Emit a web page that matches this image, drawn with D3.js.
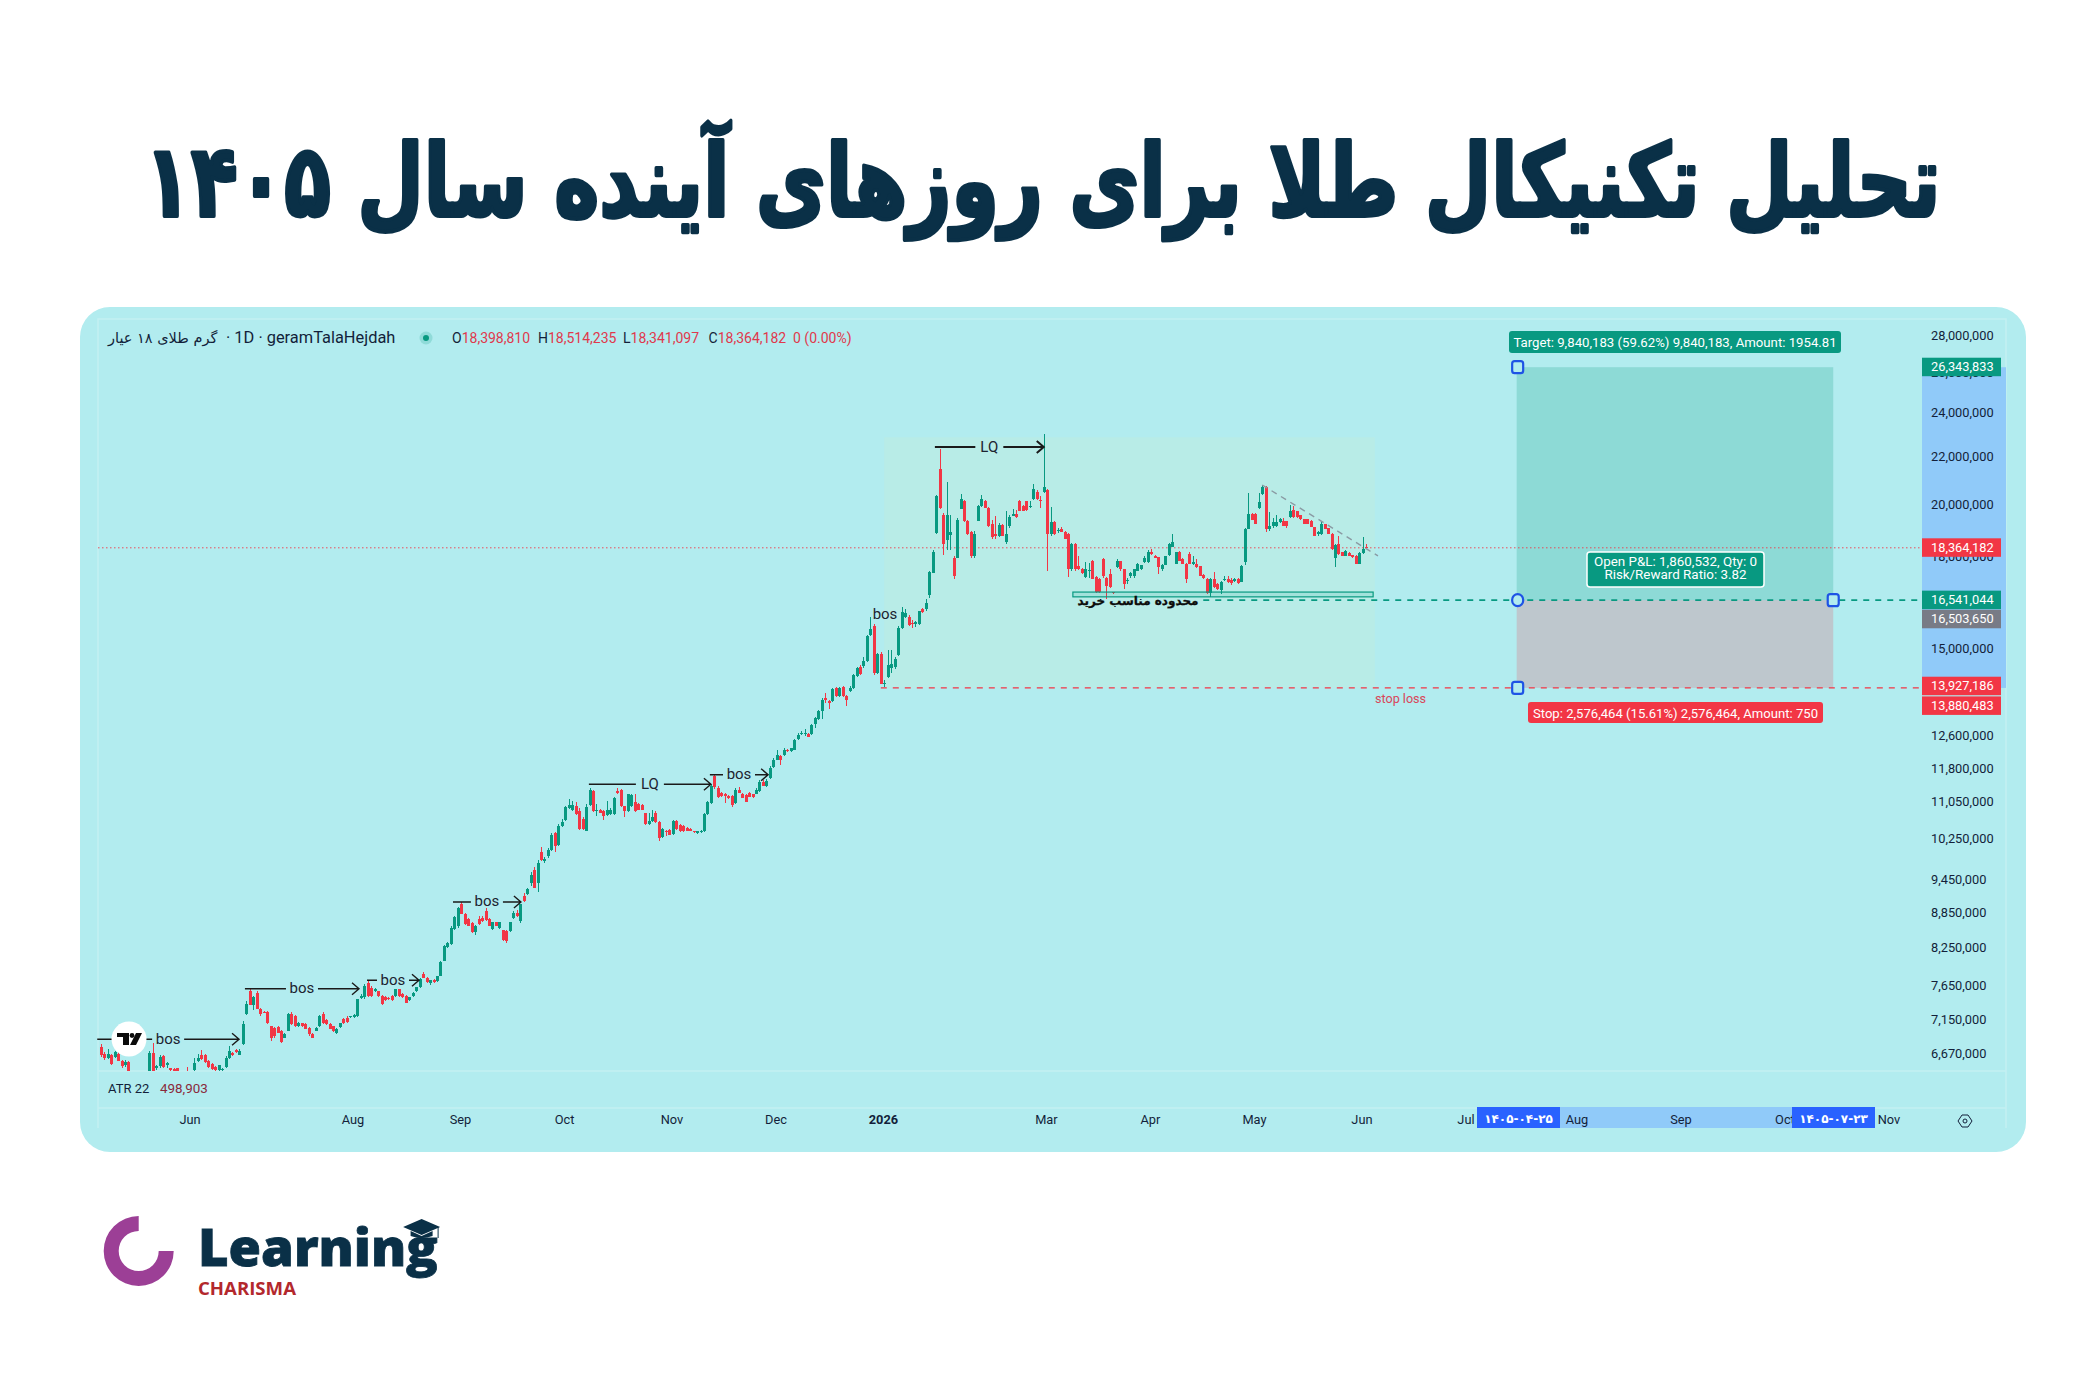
<!DOCTYPE html>
<html lang="fa">
<head>
<meta charset="utf-8">
<script src="https://cdnjs.cloudflare.com/ajax/libs/d3/7.8.5/d3.min.js"></script>
<style>
html,body{margin:0;padding:0;background:#fff}
svg{display:block}
text{font-family:Roboto,"DejaVu Sans",sans-serif}
</style>
</head>
<body>
<svg id="chart" width="2085" height="1390"></svg>
<script>
// Daily candles of 18k gold per gram, [open, high, low, close] in millions.
const barsMay = [
[6.78,6.81,6.64,6.66],[6.68,6.70,6.60,6.62],[6.62,6.74,6.61,6.68],[6.67,6.68,6.53,6.55],[6.64,6.72,6.62,6.70],
[6.68,6.70,6.58,6.59],[6.59,6.60,6.50,6.52],[6.54,6.60,6.51,6.57],[6.57,6.58,6.43,6.46],[6.44,6.46,6.39,6.41],
[6.41,6.45,6.38,6.43],[6.43,6.45,6.38,6.40],[6.40,6.44,6.37,6.42],[6.42,6.46,6.39,6.44],[6.44,6.72,6.42,6.69],
[6.69,6.83,6.42,6.45],[6.49,6.53,6.47,6.52],[6.52,6.66,6.50,6.64],[6.65,6.67,6.50,6.51],[6.53,6.57,6.49,6.56],
[6.49,6.50,6.44,6.47],[6.48,6.49,6.43,6.46],[6.49,6.50,6.44,6.46],[6.44,6.46,6.40,6.42],[6.43,6.46,6.40,6.44],
[6.46,6.51,6.42,6.44]];
const barsJune = [
[6.44,6.46,6.40,6.45],[6.47,6.63,6.45,6.56],[6.59,6.68,6.57,6.63],[6.67,6.73,6.60,6.61],[6.67,6.68,6.56,6.57],
[6.59,6.60,6.50,6.51],[6.55,6.56,6.47,6.48],[6.51,6.52,6.44,6.47],[6.47,6.54,6.45,6.53],[6.47,6.49,6.44,6.48],
[6.51,6.65,6.49,6.62],[6.63,6.79,6.61,6.72],[6.69,6.71,6.65,6.66],[6.73,6.75,6.69,6.70],[6.67,6.74,6.66,6.72],
[6.81,7.14,6.80,7.09],[7.24,7.43,7.22,7.38],[7.58,7.61,7.36,7.37],[7.37,7.50,7.30,7.48],[7.55,7.58,7.31,7.31],
[7.31,7.32,7.20,7.23],[7.27,7.28,7.25,7.26],[7.27,7.28,7.09,7.10],[7.06,7.07,6.86,6.90],[7.04,7.05,6.90,6.93],
[7.05,7.06,6.96,6.97]];
const barsJuly = [
[7.00,7.01,6.83,6.84],[6.90,6.97,6.89,6.95],[7.00,7.25,6.99,7.23],[7.24,7.27,7.08,7.09],[7.20,7.22,7.05,7.06],
[7.07,7.12,7.05,7.11],[7.10,7.11,7.05,7.06],[7.09,7.10,7.02,7.02],[7.04,7.05,6.93,6.95],[6.95,6.96,6.89,6.90],
[7.00,7.05,6.99,7.04],[7.06,7.22,7.05,7.21],[7.24,7.26,7.09,7.10],[7.15,7.16,7.08,7.09],[7.09,7.10,7.02,7.02],
[7.06,7.07,6.98,7.00],[6.97,7.03,6.95,7.02],[7.05,7.11,7.04,7.10],[7.17,7.18,7.09,7.10],[7.18,7.20,7.11,7.12],
[7.19,7.21,7.18,7.20]];
const barsAugust = [
[7.19,7.24,7.18,7.22],[7.20,7.46,7.19,7.45],[7.47,7.53,7.45,7.50],[7.48,7.68,7.45,7.65],[7.70,7.75,7.49,7.50],
[7.62,7.65,7.49,7.50],[7.58,7.62,7.56,7.60],[7.57,7.58,7.49,7.50],[7.50,7.51,7.36,7.38],[7.48,7.50,7.42,7.44],
[7.47,7.49,7.44,7.45],[7.50,7.52,7.43,7.44],[7.50,7.61,7.49,7.60],[7.60,7.61,7.49,7.50],[7.53,7.54,7.47,7.48],
[7.50,7.51,7.39,7.40],[7.44,7.49,7.42,7.48],[7.50,7.56,7.49,7.55],[7.58,7.64,7.56,7.63],[7.63,7.77,7.62,7.76],
[7.83,7.87,7.77,7.78],[7.78,7.79,7.70,7.71],[7.69,7.75,7.67,7.74],[7.75,7.76,7.70,7.71],[7.73,7.81,7.72,7.81],
[7.81,8.05,7.80,8.03],[8.05,8.30,8.04,8.29],[8.27,8.36,8.26,8.34],[8.32,8.62,8.31,8.60],[8.58,8.80,8.56,8.78],
[8.63,8.96,8.60,8.95]];
const barsSeptember = [
[9.02,9.05,8.83,8.84],[8.83,8.85,8.65,8.66],[8.74,8.76,8.62,8.63],[8.67,8.69,8.51,8.53],[8.52,8.64,8.47,8.63],
[8.74,8.80,8.65,8.66],[8.77,8.80,8.70,8.71],[8.89,8.95,8.72,8.73],[8.74,8.76,8.62,8.63],[8.57,8.70,8.55,8.69],
[8.69,8.70,8.62,8.63],[8.60,8.70,8.58,8.69],[8.55,8.56,8.37,8.38],[8.54,8.55,8.34,8.37],[8.54,8.70,8.52,8.69],
[8.77,8.88,8.75,8.86],[8.86,8.90,8.79,8.80],[8.72,9.02,8.68,9.01],[9.16,9.22,9.05,9.07],[9.19,9.30,9.17,9.28],
[9.40,9.60,9.35,9.56],[9.64,9.70,9.30,9.31],[9.40,9.84,9.24,9.79],[10.01,10.10,9.82,9.84],[9.82,9.90,9.78,9.87],
[9.92,10.09,9.88,10.05],[10.05,10.38,10.02,10.34],[10.38,10.40,10.00,10.12],[10.15,10.58,10.12,10.54],[10.54,10.68,10.52,10.61]];
const barsOctober = [
[10.66,10.97,10.64,10.94],[10.92,11.11,10.90,10.98],[10.88,11.08,10.86,10.98],[10.96,11.05,10.76,10.78],[10.85,10.92,10.45,10.47],
[10.68,10.72,10.45,10.47],[10.43,11.00,10.42,10.95],[10.99,11.36,10.97,11.33],[11.30,11.32,10.84,10.85],[10.85,11.00,10.74,10.88],
[10.87,10.90,10.80,10.82],[10.85,10.88,10.67,10.75],[10.77,11.07,10.74,10.87],[10.78,10.92,10.76,10.87],[10.78,11.17,10.76,11.15],
[11.30,11.36,11.24,11.25],[11.33,11.35,10.95,10.96],[10.96,10.97,10.73,10.85],[10.86,11.22,10.84,11.22],[10.96,11.22,10.94,11.20],
[11.06,11.22,10.84,10.85],[11.01,11.02,10.87,10.88],[10.99,11.00,10.87,10.88],[10.80,10.82,10.55,10.57],[10.57,10.82,10.55,10.64],
[10.64,10.88,10.62,10.73],[10.80,10.85,10.60,10.61],[10.61,10.63,10.22,10.28],[10.31,10.50,10.29,10.47],[10.43,10.45,10.33,10.40]];
const barsNovember = [
[10.45,10.47,10.34,10.35],[10.36,10.66,10.34,10.63],[10.64,10.67,10.46,10.47],[10.55,10.58,10.40,10.42],[10.53,10.56,10.41,10.42],
[10.50,10.52,10.42,10.43],[10.47,10.49,10.42,10.43],[10.42,10.43,10.39,10.40],[10.38,10.43,10.37,10.42],[10.40,10.44,10.39,10.43],
[10.43,10.80,10.41,10.78],[10.78,11.08,10.76,11.05],[11.03,11.45,11.00,11.41],[11.64,11.66,11.35,11.38],[11.37,11.40,11.14,11.16],
[11.25,11.27,11.17,11.18],[11.23,11.25,11.03,11.18],[11.18,11.20,11.12,11.13],[11.18,11.20,10.95,10.99],[11.03,11.36,11.00,11.33],
[11.33,11.38,11.25,11.26],[11.24,11.25,11.14,11.15],[11.20,11.22,11.04,11.05],[11.25,11.27,11.16,11.16],[11.22,11.24,11.15,11.16],
[11.24,11.36,11.22,11.33],[11.30,11.55,11.28,11.51],[11.51,11.54,11.40,11.41],[11.41,11.56,11.39,11.52],[11.60,11.87,11.58,11.83]];
const barsDecember = [
[11.85,12.06,11.83,12.03],[12.03,12.27,12.01,12.15],[12.11,12.13,11.90,12.03],[12.13,12.32,12.11,12.27],[12.27,12.29,12.22,12.23],
[12.23,12.32,12.21,12.30],[12.27,12.53,12.25,12.50],[12.53,12.68,12.51,12.64],[12.65,12.74,12.63,12.69],[12.65,12.78,12.60,12.69],
[12.67,12.69,12.58,12.59],[12.65,12.92,12.63,12.89],[12.91,13.09,12.80,13.06],[13.04,13.28,13.02,13.25],[13.25,13.60,13.04,13.56],
[13.60,13.73,13.48,13.56],[13.51,13.55,13.31,13.47],[13.51,13.87,13.49,13.84],[13.87,13.90,13.64,13.66],[13.66,13.91,13.64,13.88],
[13.90,13.93,13.64,13.66],[13.66,13.68,13.40,13.56],[13.80,13.92,13.78,13.88],[13.88,14.27,13.86,14.23],[14.21,14.48,14.19,14.45],
[14.47,14.52,14.25,14.27],[14.49,14.75,14.45,14.65],[14.65,15.44,14.62,15.39],[15.42,16.00,15.40,15.60],[15.72,15.78,14.25,14.30]];
const barsJanuary = [
[14.31,14.88,14.28,14.84],[14.86,14.90,13.98,14.00],[13.98,14.10,13.90,14.02],[14.20,14.96,14.15,14.52],[14.43,14.96,14.30,14.57],
[14.47,14.75,14.42,14.72],[14.81,15.70,14.78,15.65],[15.65,16.33,15.62,16.15],[15.99,16.25,15.96,16.12],[16.00,16.05,15.70,15.75],
[15.80,15.90,15.65,15.76],[15.78,15.88,15.68,15.83],[15.78,16.20,15.75,16.18],[16.24,16.27,16.13,16.15],[16.24,16.58,16.20,16.44],
[16.70,17.55,16.60,17.51],[17.48,18.30,17.45,18.20],[18.91,20.42,18.88,20.38],[21.49,22.37,19.85,19.89],[19.59,19.70,18.10,18.51],
[18.64,20.95,18.30,19.59],[18.85,19.60,18.30,18.95],[18.00,18.05,17.25,17.37],[18.00,19.50,17.98,19.43],[19.85,20.45,19.83,20.25],
[20.18,20.20,19.35,19.39],[19.39,19.42,18.85,18.88],[18.95,18.98,18.00,18.05],[18.08,19.00,18.00,18.88],[19.39,20.02,19.36,19.98]];
const barsFebruary = [
[19.95,20.40,19.92,20.25],[20.18,20.20,19.87,19.89],[19.89,19.92,19.15,19.20],[19.26,19.40,18.70,18.76],[18.88,19.55,18.70,18.82],
[18.82,19.30,18.78,19.22],[19.22,19.25,18.80,18.82],[18.57,19.78,18.50,18.86],[19.17,19.60,19.10,19.52],[19.58,19.85,19.55,19.63],
[19.65,19.80,19.50,19.52],[20.15,20.20,19.75,19.78],[19.98,20.00,19.75,19.78],[20.15,20.18,19.78,19.80],[19.92,20.18,19.90,19.96],
[20.25,20.85,20.20,20.65],[20.55,20.60,20.20,20.25],[20.20,20.38,19.90,20.15],[20.55,23.04,20.50,20.75],[20.62,20.65,17.55,18.86],
[18.88,19.92,18.80,19.33],[19.33,19.36,18.85,18.88],[18.98,19.10,18.90,19.02],[19.08,19.15,18.94,18.95],[18.95,18.98,18.68,18.70],
[18.88,18.90,17.34,17.60],[17.60,18.55,17.55,18.51],[18.51,18.54,17.55,17.60],[17.70,18.05,17.58,17.60],[17.60,17.63,17.42,17.45]];
const barsMarch = [
[17.33,17.85,17.30,17.60],[17.55,17.80,17.30,17.58],[17.90,17.92,17.25,17.27],[17.33,17.36,16.78,16.80],[17.27,17.30,16.78,16.80],
[17.96,17.99,17.30,17.37],[17.30,17.32,16.59,17.00],[17.42,17.60,16.95,16.98],[16.80,16.82,16.75,16.78],[17.67,17.95,17.65,17.87],
[17.87,17.90,17.55,17.59],[17.59,17.61,16.90,17.07],[17.18,17.30,17.10,17.22],[17.35,17.50,17.30,17.47],[17.37,17.62,17.30,17.59],
[17.55,17.83,17.53,17.79],[17.60,17.75,17.58,17.73],[17.85,18.05,17.83,18.00],[17.85,18.28,17.83,18.22],[18.20,18.32,18.10,18.14],
[18.08,18.10,17.98,18.00],[18.02,18.04,17.43,17.67],[17.60,17.78,17.55,17.75],[17.75,18.08,17.73,18.08],[18.10,18.55,18.08,18.51],
[18.41,18.88,18.38,18.57],[17.79,18.22,17.77,18.20],[18.20,18.25,17.88,17.90],[17.96,17.98,17.77,17.79],[17.79,17.81,17.13,17.27]];
const barsApril = [
[18.14,18.20,17.77,17.79],[17.79,18.05,17.75,17.85],[17.79,17.95,17.65,17.67],[17.70,17.72,17.35,17.37],[17.40,17.42,17.26,17.28],
[17.27,17.30,16.76,16.78],[16.78,17.30,16.65,17.27],[17.27,17.50,16.95,16.98],[17.09,17.11,16.88,16.90],[16.87,17.18,16.75,17.15],
[17.22,17.35,17.20,17.26],[17.25,17.35,17.12,17.16],[17.21,17.30,17.05,17.13],[17.18,17.30,17.15,17.25],[17.27,17.30,17.10,17.12],
[17.16,17.75,17.14,17.72],[17.85,19.10,17.75,19.07],[19.07,20.47,19.05,19.65],[19.65,19.70,19.40,19.43],[19.65,19.70,19.25,19.27],
[19.89,20.50,19.85,20.12],[20.45,20.82,20.40,20.72],[20.75,20.78,18.95,19.07],[19.07,19.72,19.00,19.20],[19.20,19.50,19.10,19.33],
[19.20,19.60,19.15,19.33],[19.33,19.50,19.30,19.45],[19.36,19.50,19.18,19.20],[19.36,19.38,19.12,19.20],[19.52,20.02,19.50,19.78]];
const barsLast = [
[19.80,19.95,19.50,19.52],[19.75,19.77,19.50,19.52],[19.59,19.62,19.43,19.45],[19.45,19.47,19.25,19.27],[19.45,19.47,19.25,19.27],
[19.39,19.41,19.13,19.14],[19.14,19.16,18.80,18.82],[18.86,18.98,18.82,18.95],[18.86,19.32,18.84,19.26],[19.24,19.26,19.05,19.07],
[19.09,19.11,18.86,18.88],[18.88,18.90,18.30,18.32],[18.00,18.50,17.67,18.45],[18.49,18.82,18.12,18.14],[18.20,18.22,18.06,18.08],
[18.08,18.30,18.06,18.26],[18.17,18.20,18.05,18.08],[18.10,18.12,18.00,18.02],[18.08,18.10,17.77,17.79],[17.79,18.20,17.77,18.17],
[18.17,18.76,18.15,18.32],[18.39881,18.514235,18.341097,18.364182]];

const priceTicks = [28e6,26e6,24e6,22e6,20e6,18e6,15e6,12.6e6,11.8e6,11.05e6,10.25e6,9.45e6,8.85e6,8.25e6,7.65e6,7.15e6,6.67e6];
const monthLabels = ["Jun","Aug","Sep","Oct","Nov","Dec","2026","Mar","Apr","May","Jun","Jul","Aug","Sep","Oct","Nov"];
const monthBars = [26,73,104,134,165,195,226,273,303,333,364,394,426,456,486,516];

// Drawn tools: [label, first bar, last bar, price in millions]
const arrowTools = [
 ["bos",-1,39.9,6.88],["bos",41.6,74.5,7.61],["bos",76.8,91.8,7.74],["bos",101.6,121.2,9.05],
 ["LQ",140.8,176,11.45],["bos",175.7,192.5,11.67],["LQ",240.6,272,22.46]
];
const legendValues = ["18,398,810","18,514,235","18,341,097","18,364,182"];
const lastClose = 18364182, entryPrice = 16541044, targetPrice = 26343833, stopPrice = 13880483;
// Price tags on the axis: [price, colour, stacked rows below its own level]
const priceTags = [
 [26343833,"#089981",0],[18364182,"#f23645",0],[16541044,"#089981",0],
 [16503650,"#787b86",1],[13927186,"#f23645",0],[13880483,"#f23645",1]
];

const INK = "#131f3a", GREEN = "#089981", RED = "#f23645", CARD = "#b2ecef", NAVY = "#0a3047", BLUE = "#2962ff";
const bars = [].concat(barsMay,barsJune,barsJuly,barsAugust,barsSeptember,barsOctober,barsNovember,
                       barsDecember,barsJanuary,barsFebruary,barsMarch,barsApril,barsLast);

const x = d3.scaleLinear().domain([0,365]).range([100.7,1366.2]);
const y = d3.scaleLog().domain([28e6,6.67e6]).range([336.7,1054.7]);
const M = v => y(v*1e6);
const fmt = d3.format(",");

const svg = d3.select("#chart");
svg.append("rect").attr("width",2085).attr("height",1390).attr("fill","#fff");

// Heading
const title = svg.append("text")
  .attr("direction","rtl").attr("text-anchor","middle")
  .style("font-family","'DejaVu Sans'").style("font-weight",700).style("font-size","100px")
  .attr("fill",NAVY).attr("stroke",NAVY).attr("stroke-width",4).attr("stroke-linejoin","round")
  .text("تحلیل تکنیکال طلا برای روزهای آینده سال ۱۴۰۵");
const titleBox = title.node().getBBox();
title.attr("transform",`translate(1042.5,216) scale(${1796/titleBox.width},1)`);

// Card and panes
svg.append("rect").attr("x",80).attr("y",307).attr("width",1946).attr("height",845).attr("rx",30).attr("fill",CARD);
const frame = svg.append("g").attr("stroke","#c4f0f2").attr("stroke-width",1.5).attr("fill","none");
frame.append("path").attr("d","M98,1128V319H2006V1128");
frame.append("path").attr("d","M98,1071H2006M98,1108H2006");

// Highlighted region behind the candles
svg.append("rect").attr("x",x(226)).attr("y",M(22.9)).attr("width",x(367.5)-x(226)).attr("height",M(13.88)-M(22.9))
  .attr("fill","#c8ecd6").attr("opacity",.32);

// Right axis highlight of the position range
svg.append("rect").attr("x",1922).attr("y",y(targetPrice)).attr("width",84).attr("height",y(13.88e6)-y(targetPrice)).attr("fill","#90caf9");
// Bottom axis highlight of the position range
svg.append("rect").attr("x",1559).attr("y",1107).attr("width",233).attr("height",21).attr("fill","#90caf9");

// Position tool
const posL = x(408.4), posR = x(499.7);
svg.append("rect").attr("x",posL).attr("y",y(targetPrice)).attr("width",posR-posL).attr("height",y(entryPrice)-y(targetPrice)).attr("fill",GREEN).attr("opacity",.22);
svg.append("rect").attr("x",posL).attr("y",y(entryPrice)).attr("width",posR-posL).attr("height",y(stopPrice)-y(entryPrice)).attr("fill",RED).attr("opacity",.2);

// Price levels
svg.append("line").attr("x1",98).attr("x2",1922).attr("y1",y(lastClose)).attr("y2",y(lastClose)).attr("stroke",RED).attr("stroke-dasharray","1.5 2.5").attr("opacity",.85);
svg.append("line").attr("x1",x(318)).attr("x2",1922).attr("y1",y(entryPrice)).attr("y2",y(entryPrice)).attr("stroke",GREEN).attr("stroke-width",1.8).attr("stroke-dasharray","6 6");
svg.append("line").attr("x1",x(225)).attr("x2",1922).attr("y1",y(stopPrice)).attr("y2",y(stopPrice)).attr("stroke",RED).attr("stroke-width",1.2).attr("stroke-dasharray","6 6");

// Candles, cut at the pane edge
svg.append("clipPath").attr("id","pane").append("rect").attr("x",98).attr("y",319).attr("width",1824).attr("height",752);
const candleLayer = svg.append("g").attr("clip-path","url(#pane)").attr("shape-rendering","crispEdges");
const candle = candleLayer.selectAll("g").data(bars).join("g")
  .attr("fill",d => d[3]>=d[0] ? GREEN : RED);
candle.append("rect").attr("x",(d,i)=>Math.round(x(i))).attr("width",1)
  .attr("y",d=>M(d[1])).attr("height",d=>M(d[2])-M(d[1]));
candle.append("rect").attr("x",(d,i)=>Math.round(x(i))-1).attr("width",3)
  .attr("y",d=>M(Math.max(d[0],d[3]))).attr("height",d=>Math.max(1,M(Math.min(d[0],d[3]))-M(Math.max(d[0],d[3]))));

// Falling trend line
svg.append("line").attr("x1",x(335)).attr("y1",M(20.82)).attr("x2",x(368.4)).attr("y2",M(18.07))
  .attr("stroke","#8a9aa3").attr("stroke-width",1.4).attr("stroke-dasharray","6 5");

// Buy zone
svg.append("rect").attr("x",x(280.4)).attr("y",M(16.81)).attr("width",x(367)-x(280.4)).attr("height",M(16.65)-M(16.81))
  .attr("fill",GREEN).attr("fill-opacity",.12).attr("stroke",GREEN).attr("stroke-width",1.2);
svg.append("text").attr("x",1138).attr("y",605).attr("text-anchor","middle").attr("direction","rtl")
  .style("font-family","'DejaVu Sans'").style("font-weight",700).style("font-size","12px").attr("fill","#0c0c0c")
  .attr("stroke","#0c0c0c").attr("stroke-width",.3)
  .text("محدوده مناسب خرید");
svg.append("text").attr("x",1375).attr("y",703).attr("fill","#d9465a").style("font-size","12.6px").text("stop loss");

// Labelled arrows
const tools = svg.append("g").selectAll("g").data(arrowTools).join("g");
tools.each(function(d){
  const g = d3.select(this), a = x(d[1]), b = x(d[2]), py = M(d[3]), mid = (a+b)/2;
  const half = d[0]==="LQ" ? 14 : 16;
  const sw = d[0]==="LQ" && d[1]>200 ? 2 : 1.4;
  const path = `M${a},${py}H${mid-half}M${mid+half},${py}H${b}M${b-7},${py-6}L${b},${py}L${b-7},${py+6}`;
  g.append("path").attr("d",path).attr("fill","none").attr("stroke","#1a1a1a").attr("stroke-width",sw);
  g.append("text").attr("x",mid).attr("y",py+4.5).attr("text-anchor","middle").attr("fill","#1c2330")
    .style("font-size","15px").text(d[0]);
});
svg.append("text").attr("x",885).attr("y",619).attr("text-anchor","middle").attr("fill","#1c2330").style("font-size","15px").text("bos");

// Legend row
svg.append("text").attr("x",108).attr("y",343).style("font-family","'DejaVu Sans'").style("font-size","14.5px").attr("fill",INK)
  .text("گرم طلای ۱۸ عیار");
svg.append("text").attr("x",226).attr("y",343).style("font-size","16.4px").attr("fill",INK).text("· 1D · geramTalaHejdah");
svg.append("circle").attr("cx",426).attr("cy",338).attr("r",6.5).attr("fill",GREEN).attr("opacity",.2);
svg.append("circle").attr("cx",426).attr("cy",338).attr("r",3).attr("fill",GREEN);
const legendX = [452,538,623,708.6];
["O","H","L","C"].forEach((k,i)=>{
  const t = svg.append("text").attr("x",legendX[i]).attr("y",343).style("font-size","14px").attr("fill",INK);
  t.append("tspan").text(k);
  t.append("tspan").attr("fill","#e0384c").text(legendValues[i]);
});
svg.append("text").attr("x",793).attr("y",343).style("font-size","14px").attr("fill","#e0384c").text("0 (0.00%)");

// ATR pane
svg.append("text").attr("x",108).attr("y",1093).attr("fill",INK).style("font-size","13px").text("ATR 22");
svg.append("text").attr("x",160).attr("y",1093).attr("fill","#8a2a3c").style("font-size","13.4px").text("498,903");

// Axes
const yAxis = svg.append("g").attr("transform","translate(1920,-1)")
  .call(d3.axisRight(y).tickValues(priceTicks).tickSize(0).tickPadding(11).tickFormat(fmt));
yAxis.select(".domain").remove();
yAxis.selectAll("text").attr("fill",INK).style("font-size","12.8px");

const xAxis = svg.append("g").attr("transform","translate(-1.3,1109)")
  .call(d3.axisBottom(x).tickValues(monthBars).tickSize(0).tickPadding(6).tickFormat((d,i)=>monthLabels[i]));
xAxis.select(".domain").remove();
xAxis.selectAll("text").attr("fill",INK).style("font-size","12.8px")
  .style("font-weight",(d,i)=>monthLabels[i]==="2026"?700:400);

// Date flags on the time axis
[[1477,"۱۴۰۵-۰۴-۲۵"],[1792,"۱۴۰۵-۰۷-۲۳"]].forEach(([fx,label])=>{
  svg.append("rect").attr("x",fx).attr("y",1107).attr("width",83).attr("height",21).attr("fill",BLUE);
  svg.append("text").attr("x",fx+41.5).attr("y",1123).attr("text-anchor","middle").attr("fill","#fff")
    .style("font-family","'DejaVu Sans'").style("font-weight",700).style("font-size","12px").text(label);
});

// Axis price tags
const tags = svg.append("g").selectAll("g").data(priceTags).join("g")
  .attr("transform",d=>`translate(1922,${y(d[0])-9.5+d[2]*18})`);
tags.append("rect").attr("width",79).attr("height",18.5).attr("fill",d=>d[1]);
tags.append("text").attr("x",9).attr("y",13.4).attr("fill","#fff").style("font-size","12.8px").text(d=>fmt(d[0]));

// Position tool captions
function caption(x0,x1,y0,y1,fill,lines,size,border){
  svg.append("rect").attr("x",x0).attr("y",y0).attr("width",x1-x0).attr("height",y1-y0).attr("rx",3).attr("fill",fill)
    .attr("stroke",border?"#fff":"none").attr("stroke-width",border?1.5:0);
  lines.forEach((t,i)=>svg.append("text").attr("x",(x0+x1)/2).attr("y",y0+ (lines.length>1? 14+i*13.3 : 15.5))
    .attr("text-anchor","middle").attr("fill","#fff").style("font-size",size+"px").text(t));
}
caption(1509,1841,331,353,GREEN,["Target: 9,840,183 (59.62%) 9,840,183, Amount: 1954.81"],13.2);
caption(1528,1823,702,723,RED,["Stop: 2,576,464 (15.61%) 2,576,464, Amount: 750"],13.1);
caption(1587,1764,552,587,GREEN,["Open P&L: 1,860,532, Qty: 0","Risk/Reward Ratio: 3.82"],13.4,true);

// Drag handles of the position tool
const handleBlue = "#1e53e5";
[[posL+1,y(targetPrice),0],[posL+1,y(entryPrice),1],[posR,y(entryPrice),0],[posL+1,y(stopPrice),0]].forEach(([hx,hy,round])=>{
  svg.append("rect").attr("x",hx-5.5).attr("y",hy-6).attr("width",11).attr("height",12).attr("rx",round?5.5:2.5)
    .attr("fill",CARD).attr("stroke",handleBlue).attr("stroke-width",2.2);
});

// Chart settings glyph
const gear = svg.append("g").attr("transform","translate(1965,1121)").attr("fill","none").attr("stroke",INK).attr("stroke-width",1);
gear.append("path").attr("d","M-3,-6L3,-6L7,0L3,6L-3,6L-7,0Z");
gear.append("circle").attr("r",2);

// Platform badge
const badge = svg.append("g").attr("transform","translate(129,1039)");
badge.append("circle").attr("r",17.5).attr("fill","#fff");
badge.append("path").attr("d","M-12,-6H0V6H-6V-2H-12ZM7,-6H13L7,6H1Z").attr("fill","#0a0a0a");
badge.append("circle").attr("cx",3).attr("cy",-3.5).attr("r",2.4).attr("fill","#0a0a0a");

// Brand mark
const ring = d3.arc().innerRadius(20).outerRadius(35).startAngle(-Math.PI*1.5).endAngle(0);
svg.append("path").attr("d",ring()).attr("transform","translate(138.7,1251)").attr("fill","#9c3f96");
svg.append("text").attr("x",198).attr("y",1266).attr("textLength",240).attr("lengthAdjust","spacingAndGlyphs")
  .style("font-family","'Open Sans'").style("font-weight",800).style("font-size","52px").attr("fill",NAVY)
  .attr("stroke",NAVY).attr("stroke-width",.8).text("Learning");
svg.append("text").attr("x",198).attr("y",1295).attr("textLength",98).attr("lengthAdjust","spacingAndGlyphs")
  .style("font-family","'Open Sans'").style("font-weight",700).style("font-size","18px").attr("fill","#b3282d").text("CHARISMA");
const cap = svg.append("g").attr("transform","translate(421.6,1227)").attr("fill",NAVY);
cap.append("path").attr("d","M-18.5,0L0,-8L18.5,0L0,8Z");
cap.append("path").attr("d","M-11,4L0,9L11,4V9Q0,13 -11,9Z");
cap.append("rect").attr("x",16).attr("y",0).attr("width",1).attr("height",11);
</script>
</body>
</html>
